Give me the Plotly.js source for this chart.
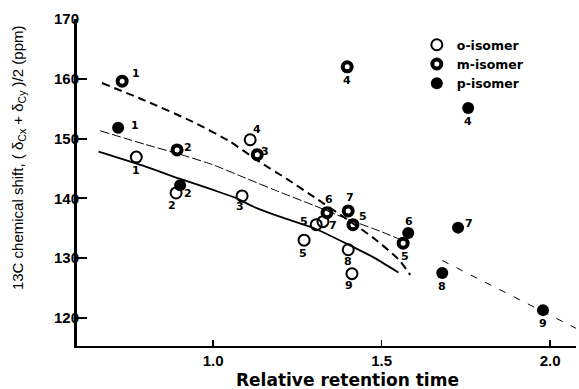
<!DOCTYPE html>
<html>
<head>
<meta charset="utf-8">
<script src="https://cdn.plot.ly/plotly-3.0.1.min.js"></script>
<style>html,body{margin:0;padding:0;background:#fff;}#chart{width:579px;height:389px;}</style>
</head>
<body>
<div id="chart"></div>
<script>
// ---- data ----
const oX = [0.772, 0.890, 1.086, 1.110, 1.270, 1.306, 1.326, 1.401, 1.412];
const oY = [146.9, 140.9, 140.4, 149.8, 133.0, 135.6, 136.1, 131.4, 127.4];
const oLab = ["1", "2", "3", "4", "5", "5", "7", "8", "9"];

const mX = [0.730, 0.893, 1.131, 1.398, 1.415, 1.338, 1.401, 1.564];
const mY = [159.6, 148.1, 147.3, 162.0, 135.6, 137.6, 137.9, 132.5];
const mLab = ["1", "2", "3", "4", "5", "6", "7", "5"];

const pX = [0.718, 0.902, 1.757, 1.579, 1.727, 1.680, 1.979];
const pY = [151.8, 142.2, 155.1, 134.2, 135.1, 127.5, 121.3];
const pLab = ["1", "2", "4", "6", "7", "8", "9"];

// fitted curves
const solidX = [0.66, 0.80, 0.90, 1.00, 1.07, 1.12, 1.20, 1.30, 1.40, 1.48, 1.55];
const solidY = [147.8, 145.3, 143.3, 141.4, 140.0, 138.6, 136.9, 135.0, 132.3, 130.0, 127.6];
const midX = [0.665, 0.80, 0.90, 1.00, 1.10, 1.20, 1.30, 1.40, 1.50, 1.56];
const midY = [151.3, 149.0, 147.4, 145.6, 143.3, 141.0, 138.8, 136.5, 134.4, 133.0];
const topX = [0.67, 0.80, 0.94, 1.05, 1.13, 1.22, 1.30, 1.40, 1.48, 1.55, 1.585];
const topY = [159.3, 156.3, 152.8, 149.5, 146.4, 143.2, 140.2, 136.4, 133.2, 129.8, 127.2];
const extX = [1.68, 2.086];
const extY = [129.6, 118.0];

const xTicks = [1.0, 1.5, 2.0];
const xTickText = ["1.0", "1.5", "2.0"];
const yTicks = [120, 130, 140, 150, 160, 170];

// label offsets in pixels (placement only)
const oOff = [[0,13],[-4,13],[-2,11],[7,-10],[-1,13],[-12,-3],[10,4],[0,12],[-3,12]];
const mOff = [[14,-8],[11,-2],[8,-3],[0,14],[10,-8],[2,-13],[2,-13],[2,13]];
const pOff = [[17,-2],[8,8],[0,13],[1,-12],[11,-4],[0,13],[0,13]];

const numFont = {family: "DejaVu Sans, Liberation Sans, sans-serif", size: 11, color: "#000", weight: "bold"};
const tickFont = {family: "Liberation Sans, Arial, sans-serif", size: 15, color: "#000", weight: "bold"};

function labels(xs, ys, labs, offs) {
  return xs.map((x, i) => ({
    x: x, y: ys[i], xref: "x", yref: "y", text: labs[i], showarrow: false,
    xshift: offs[i][0], yshift: -offs[i][1], font: numFont
  }));
}

const traces = [
  {x: solidX, y: solidY, mode: "lines", line: {color: "#000", width: 1.8, shape: "spline", smoothing: 0.6}, showlegend: false, hoverinfo: "skip"},
  {x: midX, y: midY, mode: "lines", line: {color: "#000", width: 1, dash: "9px,3px", shape: "spline", smoothing: 0.6}, showlegend: false, hoverinfo: "skip"},
  {x: topX, y: topY, mode: "lines", line: {color: "#000", width: 2, dash: "8px,5px", shape: "spline", smoothing: 0.6}, showlegend: false, hoverinfo: "skip"},
  {x: extX, y: extY, mode: "lines", line: {color: "#000", width: 1, dash: "7px,9px"}, showlegend: false, hoverinfo: "skip"},
  {x: oX, y: oY, mode: "markers", name: "o-isomer",
   marker: {symbol: "circle-open", size: 11, color: "#000", line: {width: 2, color: "#000"}}},
  {x: mX, y: mY, mode: "markers", name: "m-isomer",
   marker: {symbol: "circle-open", size: 9, color: "#000", line: {width: 4, color: "#000"}}},
  {x: pX, y: pY, mode: "markers", name: "p-isomer",
   marker: {symbol: "circle", size: 12, color: "#000", line: {width: 0}}}
];

const annotations = [].concat(
  labels(oX, oY, oLab, oOff),
  labels(mX, mY, mLab, mOff),
  labels(pX, pY, pLab, pOff),
  [
    {xref: "paper", yref: "paper", x: -0.116, y: 0.575, xanchor: "center", yanchor: "middle",
     textangle: -90, showarrow: false,
     text: "13C chemical shift, ( δ<sub>Cx</sub> + δ<sub>Cy</sub> )/2 (ppm)",
     font: {family: "Liberation Sans, sans-serif", size: 15, color: "#000"}},
    {xref: "paper", yref: "paper", x: 0.543, y: -0.104, xanchor: "center", yanchor: "middle",
     showarrow: false, text: "Relative retention time",
     font: {family: "DejaVu Sans, sans-serif", size: 17, color: "#000", weight: "bold"}}
  ]
);

const layout = {
  width: 579, height: 389,
  margin: {l: 77, r: 3, t: 19, b: 43, pad: 0},
  paper_bgcolor: "#fff", plot_bgcolor: "#fff",
  showlegend: true,
  legend: {x: 0.681, y: 0.966, xanchor: "left", yanchor: "top", bgcolor: "rgba(0,0,0,0)",
           font: {family: "DejaVu Sans, sans-serif", size: 12.5, color: "#000", weight: "bold"}, tracegroupgap: 0},
  xaxis: {range: [0.596, 2.077], tickvals: xTicks, ticktext: xTickText, ticks: "inside", ticklen: 6, tickwidth: 1.5,
          tickcolor: "#000", showline: true, linecolor: "#000", linewidth: 2, showgrid: false, zeroline: false,
          tickfont: tickFont},
  yaxis: {range: [115.3, 170], tickvals: yTicks, ticks: "inside", ticklen: 10, tickwidth: 2,
          tickcolor: "#000", showline: true, linecolor: "#000", linewidth: 3, showgrid: false, zeroline: false,
          ticklabelstandoff: -8, tickfont: tickFont},
  annotations: annotations
};

Plotly.newPlot("chart", traces, layout, {displayModeBar: false, staticPlot: true});
</script>
</body>
</html>
